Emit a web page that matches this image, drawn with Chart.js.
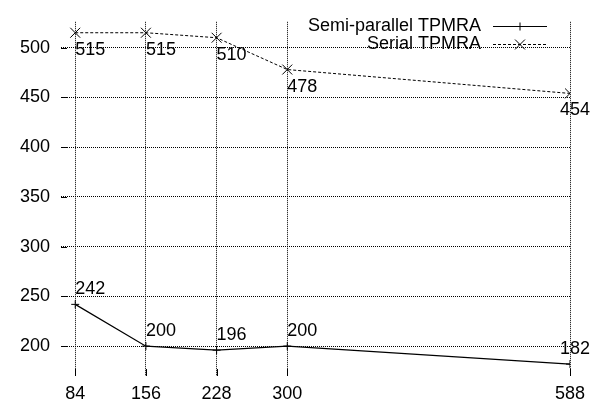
<!DOCTYPE html>
<html>
<head>
<meta charset="utf-8">
<script src="https://cdn.jsdelivr.net/npm/chart.js@4/dist/chart.umd.min.js"></script>
<style>
  html, body { margin: 0; padding: 0; background: #fff; }
</style>
</head>
<body>
<canvas id="myChart" width="594" height="407"></canvas>
<script>
const sizes = [84, 156, 228, 300, 588];
const semiParallel = [242, 200, 196, 200, 182];
const serial = [515, 515, 510, 478, 454];
const yTicks = [200, 250, 300, 350, 400, 450, 500];
const seriesNames = ["Semi-parallel TPMRA", "Serial TPMRA"];

const FAMILY = "'Liberation Sans', Arial, sans-serif";
const FONT = "18px " + FAMILY;

// point labels, inward tick marks and gnuplot-like key
const extras = {
  id: "extras",
  afterDatasetsDraw(chart) {
    const ctx = chart.ctx;
    const area = chart.chartArea;
    const xs = chart.scales.x, ys = chart.scales.y;
    ctx.save();
    ctx.strokeStyle = "#000";
    ctx.lineWidth = 1;
    ctx.setLineDash([]);
    // tick marks
    sizes.forEach(v => {
      const px = Math.round(xs.getPixelForValue(v)) + 0.5;
      ctx.beginPath();
      ctx.moveTo(px, area.bottom);
      ctx.lineTo(px, area.bottom - 7);
      ctx.stroke();
    });
    yTicks.forEach(v => {
      const py = Math.round(ys.getPixelForValue(v)) + 0.5;
      ctx.beginPath();
      ctx.moveTo(area.left, py);
      ctx.lineTo(area.left + 6, py);
      ctx.stroke();
    });

    // value labels
    ctx.font = FONT;
    ctx.fillStyle = "#000";
    ctx.textAlign = "left";
    ctx.textBaseline = "alphabetic";
    chart.data.datasets.forEach((ds, di) => {
      const meta = chart.getDatasetMeta(di);
      meta.data.forEach((pt, i) => {
        const txt = String(ds.data[i].y);
        const w = ctx.measureText(txt).width;
        let x = pt.x;
        if (x + w > 590) x = 590 - w;
        const y = di === 0 ? pt.y - 10 : pt.y + 22;
        ctx.fillText(txt, x, y);
      });
    });

    // key
    const rows = [26, 44];
    chart.data.datasets.forEach((ds, di) => {
      const y = rows[di];
      ctx.textAlign = "right";
      ctx.textBaseline = "middle";
      ctx.fillText(ds.label, 481, y);
      ctx.setLineDash(ds.borderDash || []);
      ctx.beginPath();
      ctx.moveTo(493, y + 0.5);
      ctx.lineTo(547, y + 0.5);
      ctx.stroke();
      ctx.setLineDash([]);
      Chart.helpers.drawPoint(ctx, {
        pointStyle: ds.pointStyle,
        radius: ds.pointRadius,
        borderWidth: 1
      }, 520, y + 0.5);
    });
    ctx.restore();
  }
};

const ctx = document.getElementById("myChart").getContext("2d");
const myChart = new Chart(ctx, {
  type: "line",
  data: {
    datasets: [
      {
        label: seriesNames[0],
        data: sizes.map((s, i) => ({ x: s, y: semiParallel[i] })),
        borderColor: "#000",
        backgroundColor: "#000",
        borderWidth: 1.2,
        pointStyle: "cross",
        pointRadius: 4,
        pointBorderWidth: 1,
        tension: 0,
        fill: false
      },
      {
        label: seriesNames[1],
        data: sizes.map((s, i) => ({ x: s, y: serial[i] })),
        borderColor: "#000",
        backgroundColor: "#000",
        borderWidth: 1,
        borderDash: [3, 2],
        pointStyle: "crossRot",
        pointRadius: 7,
        pointBorderWidth: 1,
        tension: 0,
        fill: false
      }
    ]
  },
  options: {
    responsive: false,
    animation: false,
    devicePixelRatio: 1,
    layout: { padding: { top: 12, right: 24, left: 0, bottom: 0 } },
    plugins: { legend: { display: false }, tooltip: { enabled: false } },
    scales: {
      x: {
        type: "linear",
        min: 69.5,
        max: 588,
        afterBuildTicks: s => { s.ticks = sizes.map(v => ({ value: v })); },
        afterFit: s => { s.height = 31; },
        ticks: {
          color: "#000",
          font: { family: FAMILY, size: 18 },
          padding: 7,
          autoSkip: false,
          maxRotation: 0,
          callback: v => String(v)
        },
        grid: { color: "#000", lineWidth: 1, drawTicks: false },
        border: { display: false, dash: [1, 1] }
      },
      y: {
        type: "linear",
        min: 170,
        max: 526,
        afterBuildTicks: s => { s.ticks = yTicks.map(v => ({ value: v })); },
        afterFit: s => { s.width = 61; },
        ticks: {
          color: "#000",
          font: { family: FAMILY, size: 18 },
          padding: 11,
          callback: v => String(v)
        },
        grid: { color: "#000", lineWidth: 1, drawTicks: false },
        border: { display: false, dash: [1, 1] }
      }
    }
  },
  plugins: [extras]
});
</script>
</body>
</html>
